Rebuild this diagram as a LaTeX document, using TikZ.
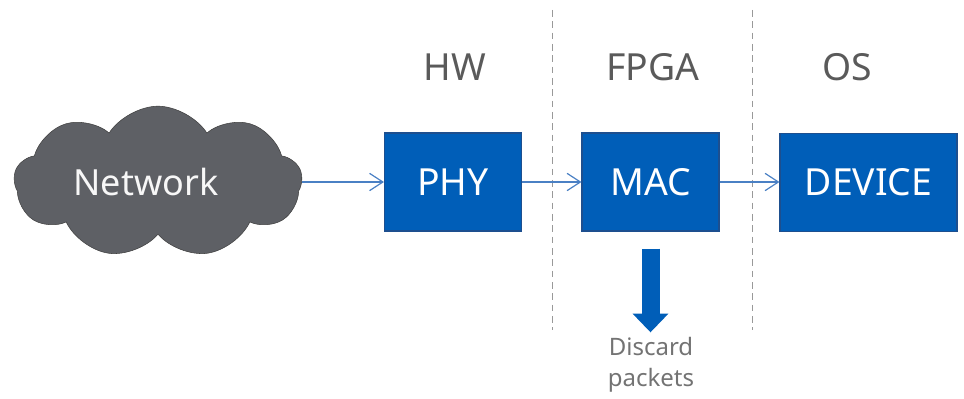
\documentclass[tikz,border=0pt]{standalone}
\usepackage{fontspec}
\setmainfont{Noto Sans}
\usepackage{xcolor}
\usetikzlibrary{arrows.meta, positioning, shapes.symbols}
\definecolor{geblue}{HTML}{005EB8}
\definecolor{geedge}{HTML}{1D4F8F}
\definecolor{linkblue}{HTML}{4A80C4}
\definecolor{cloudgray}{HTML}{5E6065}
\definecolor{labelgray}{HTML}{5A5A5A}

\tikzset{
  blk/.style={draw=geedge, fill=geblue, text=white, line width=0.8pt,
    minimum height=73.5pt, inner sep=0pt, font=\fontsize{28}{32}\selectfont},
  link/.style={draw=linkblue, line width=0.9pt, -{Straight Barb[length=10pt,width=13pt]}},
  layer/.style={text=labelgray, font=\fontsize{28}{32}\selectfont},
  divider/.style={draw=gray!80, line width=0.75pt, dash pattern=on 5pt off 3.5pt}
}

\begin{document}
\begin{tikzpicture}[x=0.75pt, y=-0.75pt]
\useasboundingbox (0,0) rectangle (964,399);
% network cloud
\node[cloud, cloud puffs=9, cloud puff arc=115, aspect=2.1, draw=black!75, fill=cloudgray,
  minimum width=216pt, minimum height=108pt, inner sep=0pt, text=white!94!gray,
  font=\fontsize{27}{30}\selectfont] (net) at (158,182) {Network\hspace*{18pt}};
% blocks
\node[blk, minimum width=102.75pt] (phy) at (453,182) {PHY};
\node[blk, minimum width=102.75pt] (mac) at (650.5,182) {MAC};
\node[blk, minimum width=132.75pt] (dev) at (868.5,182.5) {DEVICE};
% layer labels
\node[layer] (hw) at (455,67) {HW};
\node[layer] (fpga) at (653,67) {FPGA};
\node[layer] (os) at (847,67) {OS};
% dividers
\draw[divider] (552,10) -- (552,330);
\draw[divider] (752,10) -- (752,330);
% data path
\draw[link] (net.east |- phy.west) -- (phy.west);
\draw[link] (phy) -- (mac);
\draw[link] (mac.east) -- (dev.west |- mac.east);
% discard
\node[text=labelgray!85, align=center, font=\fontsize{18}{23}\selectfont, anchor=north,
  inner sep=0pt] (drop) at (651,337) {Discard\\packets};
\draw[draw=geblue, line width=13.5pt, -{Triangle[length=14pt,width=26pt]},
  shorten <=12.75pt, shorten >=3.5pt] (mac.south) -- (mac.south |- drop.north);
\end{tikzpicture}
\end{document}
